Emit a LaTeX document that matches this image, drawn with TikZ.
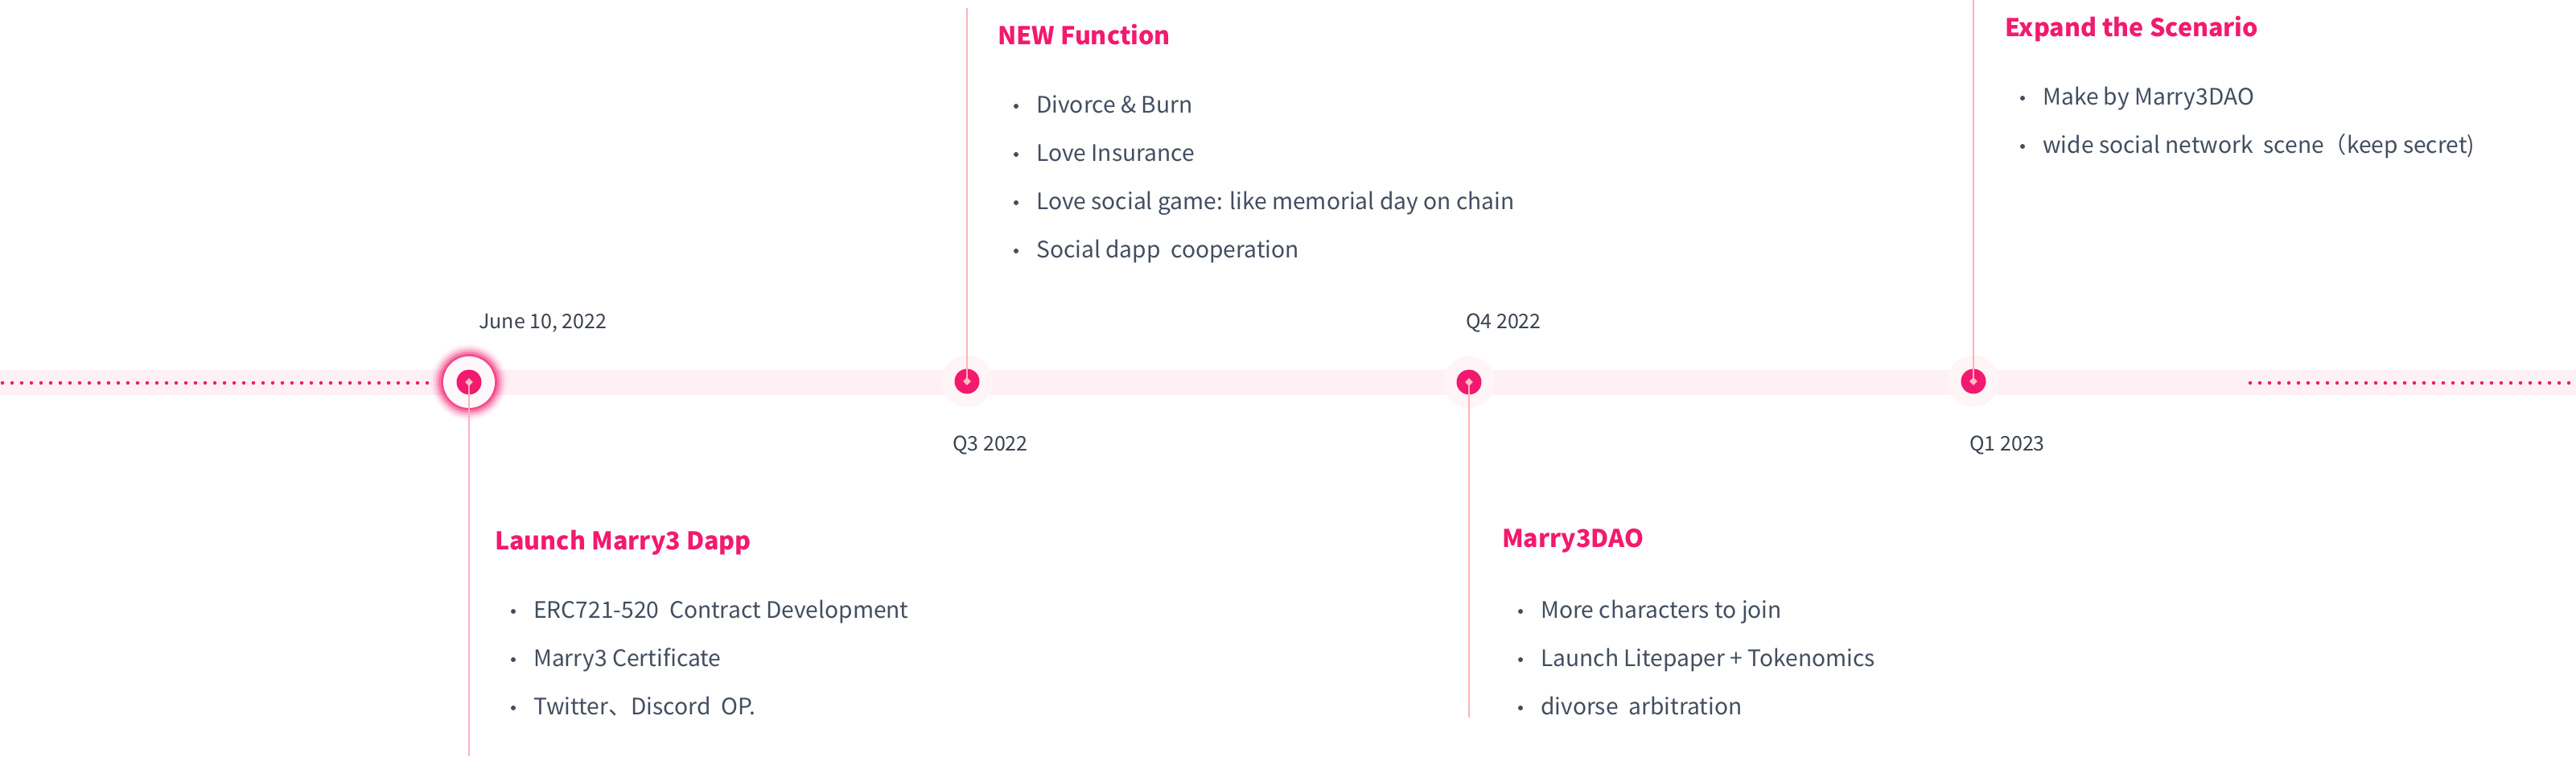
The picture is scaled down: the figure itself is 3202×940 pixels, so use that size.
\documentclass[tikz,border=0pt]{standalone}
\usepackage{fontspec}
\setmainfont{Noto Sans CJK SC}
\usetikzlibrary{calc,shapes.geometric,positioning}
\definecolor{mrpink}{RGB}{242,26,110}
\definecolor{mrstem}{RGB}{255,178,186}
\definecolor{mrband}{RGB}{255,240,246}
\definecolor{mrhalo}{RGB}{255,244,246}
\definecolor{mrgem}{RGB}{255,190,196}
\definecolor{mrslate}{RGB}{66,78,96}
\definecolor{mrdate}{RGB}{58,66,80}

\begin{document}
\begin{tikzpicture}[x=1pt,y=-1pt,
  mile/.style={circle,fill=mrpink,minimum size=31pt,inner sep=0pt},
  halo/.style={circle,fill=mrhalo,minimum size=64pt,inner sep=0pt},
  gem/.style={diamond,fill=mrgem,minimum size=10pt,inner sep=0pt},
  stem/.style={mrstem,line width=2pt},
  dots/.style={mrpink,line width=4.5pt,line cap=round,dash pattern=on 0pt off 12pt},
  when/.style={anchor=base west,text=mrdate,font=\fontsize{25}{28}\selectfont,inner sep=0pt},
  head/.style={anchor=base west,text=mrpink,font=\fontsize{30.5}{34}\selectfont\bfseries,inner sep=0pt},
  item/.style={anchor=base west,text=mrslate,font=\fontsize{28.2}{32}\selectfont,inner sep=0pt}]
\useasboundingbox (0,0) rectangle (3202,940);

% band and the dotted ends
\fill[mrband] (0,460) rectangle (3202,491);
\draw[dots] (3,476) -- (540,476);
\draw[dots] (2797,476) -- (3200,476);

% glow round the first milestone
\foreach \r/\o in {47/0.06,44/0.12,41/0.2,38/0.32,35/0.5}
  \fill[mrpink,opacity=\o] (583,475) circle (\r);
\fill[mrhalo!60!white] (583,475) circle (32);

\node[halo] at (1202,474) {};
\node[halo] at (1826,475) {};
\node[halo] at (2453,474) {};

\node[mile] (m1) at (583,475) {};
\node[mile] (m2) at (1202,474) {};
\node[mile] (m3) at (1826,475) {};
\node[mile] (m4) at (2453,474) {};

\coordinate (e1) at (583,940);
\coordinate (e2) at (1202,10);
\coordinate (e3) at (1826,892);
\coordinate (e4) at (2453,0);
\draw[stem] (m1.center) -- (e1);
\draw[stem] (m2.center) -- (e2);
\draw[stem] (m3.center) -- (e3);
\draw[stem] (m4.center) -- (e4);

\node[gem] at (m1) {};
\node[gem] at (m2) {};
\node[gem] at (m3) {};
\node[gem] at (m4) {};

% dates
\node[when] (d1) at (595,408) {June 10, 2022};
\node[when] (d2) at (1184,560) {Q3 2022};
\node[when] (d3) at (1822,408) {Q4 2022};
\node[when] (d4) at (2448,560) {Q1 2023};

% headings
\node[head] (h1) at (615,683) {Launch Marry3 Dapp};
\node[head] (h2) at (1240,55) {NEW Function};
\node[head] (h3) at (1867,680) {Marry3DAO};
\node[head] (h4) at (2492,45) {Expand the Scenario};

% bullet lists
\foreach \t [count=\i] in {ERC721-520~ Contract Development,Marry3 Certificate,Twitter、Discord~ OP.}{
  \node[item] (a\i) at (663,708+60*\i) {\t};
  \fill[mrslate] ($(a\i.base west)+(-25,-8)$) circle (3);}
\foreach \t [count=\i] in {Divorce \& Burn,Love Insurance,Love social game: like memorial day on chain,Social dapp~ cooperation}{
  \node[item] (b\i) at (1288,80+60*\i) {\t};
  \fill[mrslate] ($(b\i.base west)+(-25,-8)$) circle (3);}
\foreach \t [count=\i] in {More characters to join,Launch Litepaper + Tokenomics,divorse~ arbitration}{
  \node[item] (c\i) at (1915,708+60*\i) {\t};
  \fill[mrslate] ($(c\i.base west)+(-25,-8)$) circle (3);}
\foreach \t [count=\i] in {Make by Marry3DAO,wide social network~ scene（keep secret)}{
  \node[item] (f\i) at (2539,70+60*\i) {\t};
  \fill[mrslate] ($(f\i.base west)+(-25,-8)$) circle (3);}
\end{tikzpicture}
\end{document}
